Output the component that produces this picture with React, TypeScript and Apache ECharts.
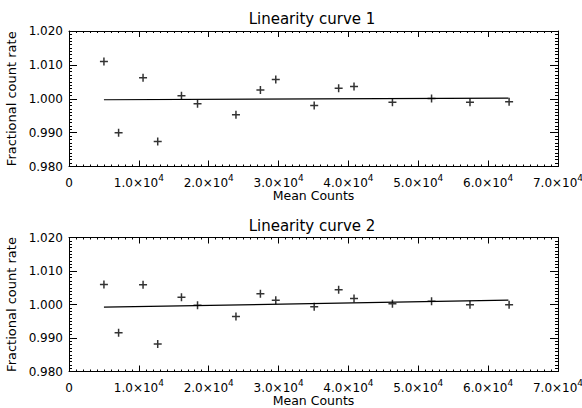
import React, { useEffect, useRef } from "react";
import * as echarts from "echarts";

const meanCounts = [5000, 7100, 10600, 12700, 16100, 18400, 23900, 27400, 29600, 35100, 38600, 40800, 46300, 51900, 57400, 63000];
const rate1 = [1.0110, 0.9900, 1.0062, 0.9874, 1.0009, 0.9985, 0.9953, 1.0026, 1.0057, 0.9980, 1.0031, 1.0036, 0.9990, 1.0001, 0.9990, 0.9991];
const rate2 = [1.0060, 0.9916, 1.0059, 0.9882, 1.0022, 0.9998, 0.9964, 1.0032, 1.0013, 0.9993, 1.0044, 1.0018, 1.0002, 1.0010, 0.9999, 0.9999];
const fitX = [5000, 62900];
const fit1 = [0.9997, 1.0002];
const fit2 = [0.9992, 1.0013];
const titles = ["Linearity curve 1", "Linearity curve 2"];
const xName = "Mean Counts";
const yName = "Fractional count rate";

const FONT = "DejaVu Sans";

function xFmt(v: number) {
  if (v === 0) return "{a|0}";
  return "{a|" + (v / 10000).toFixed(1) + "×10}{s|4}";
}

export default function App() {
  const ref = useRef<HTMLDivElement>(null);
  useEffect(() => {
    if (!ref.current) return;
    const chart = echarts.init(ref.current, undefined, { renderer: "svg" });
    const grids = [
      { left: 69, right: 24, top: 31, height: 135.5, containLabel: false, outerBoundsMode: "none" },
      { left: 69, right: 24, top: 237.5, height: 134, containLabel: false, outerBoundsMode: "none" },
    ];
    const lineSt = { color: "#000", width: 1 };
    const xAxes: any[] = [];
    const yAxes: any[] = [];
    grids.forEach((_, gi) => {
      const baseX = {
        type: "value",
        gridIndex: gi,
        min: 0,
        max: 70000,
        interval: 10000,
        axisLine: { show: true, onZero: false, lineStyle: lineSt },
        axisTick: { show: true, inside: true, length: 6, lineStyle: lineSt },
        minorTick: { show: true, splitNumber: 10, length: 2, lineStyle: lineSt },
        splitLine: { show: false },
        minorSplitLine: { show: false },
      };
      xAxes.push({
        ...baseX,
        position: "bottom",
        name: xName,
        nameLocation: "middle",
        nameGap: 22,
        nameTextStyle: { fontFamily: FONT, fontSize: 12.5, color: "#000" },
        axisLabel: {
          show: true,
          margin: 7,
          formatter: xFmt,
          showMaxLabel: true,
          rich: {
            a: { fontFamily: FONT, fontSize: 12, color: "#000", lineHeight: 15, verticalAlign: "bottom" },
            s: { fontFamily: FONT, fontSize: 9, color: "#000", verticalAlign: "top", lineHeight: 15, padding: [0, 0, 4, 0] },
          },
        },
      });
      xAxes.push({ ...baseX, position: "top", axisLabel: { show: false } });
      const baseY = {
        type: "value",
        gridIndex: gi,
        min: 0.98,
        max: 1.02,
        interval: 0.01,
        axisLine: { show: true, onZero: false, lineStyle: lineSt },
        axisTick: { show: true, inside: true, length: 8, lineStyle: lineSt },
        minorTick: { show: true, splitNumber: 10, length: 3, lineStyle: lineSt },
        splitLine: { show: false },
        minorSplitLine: { show: false },
      };
      yAxes.push({
        ...baseY,
        position: "left",
        name: yName,
        nameLocation: "middle",
        nameGap: 40,
        nameTextStyle: { fontFamily: FONT, fontSize: 13, color: "#000" },
        axisLabel: {
          show: true,
          margin: 6,
          fontFamily: FONT,
          fontSize: 12,
          color: "#000",
          formatter: (v: number) => v.toFixed(3),
        },
      });
      yAxes.push({ ...baseY, position: "right", axisLabel: { show: false } });
    });

    const rates = [rate1, rate2];
    const fits = [fit1, fit2];
    const series: any[] = [];
    rates.forEach((r, gi) => {
      series.push({
        type: "scatter",
        xAxisIndex: gi * 2,
        yAxisIndex: gi * 2,
        symbol: "path://M0,5L10,5M5,0L5,10",
        symbolSize: 8,
        itemStyle: { color: "none", borderColor: "#000", borderWidth: 1.5 },
        data: meanCounts.map((x, i) => [x, r[i]]),
      });
      series.push({
        type: "line",
        xAxisIndex: gi * 2,
        yAxisIndex: gi * 2,
        showSymbol: false,
        symbol: "none",
        lineStyle: { color: "#000", width: 1.2 },
        data: fitX.map((x, i) => [x, fits[gi][i]]),
      });
    });

    chart.setOption({
      animation: false,
      backgroundColor: "#fff",
      grid: grids,
      xAxis: xAxes,
      yAxis: yAxes,
      series,
      graphic: titles.map((t, i) => ({
        type: "text",
        x: 312,
        y: i === 0 ? 19 : 226,
        style: {
          text: t,
          fontFamily: FONT,
          fontSize: 15,
          fill: "#000",
          textAlign: "center",
          textVerticalAlign: "middle",
        },
      })),
    });
    return () => chart.dispose();
  }, []);
  return (
    <div
      ref={ref}
      style={{ position: "fixed", left: 0, top: 0, width: 582, height: 408 }}
    />
  );
}
